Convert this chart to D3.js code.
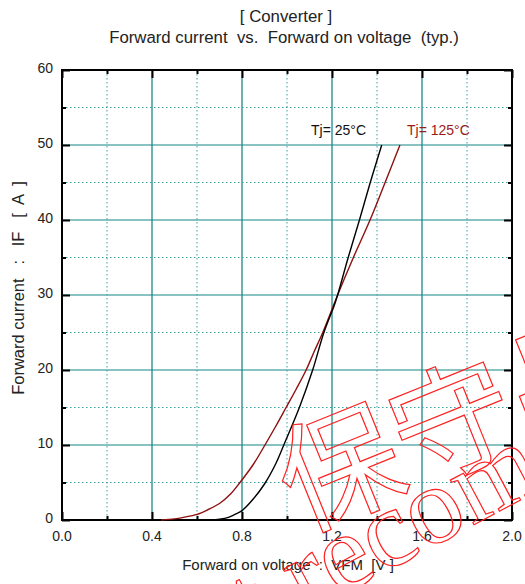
<!DOCTYPE html>
<html>
<head>
<meta charset="utf-8">
<script src="https://cdn.jsdelivr.net/npm/d3@7"></script>
<style>
  body { margin: 0; background: #fff; }
  svg { font-family: "Liberation Sans", Arial, sans-serif; }
  text { white-space: pre; }
</style>
</head>
<body>
<svg id="chart" width="525" height="584"></svg>
<script>
// curve data: forward voltage [V] vs forward current [A]
var vf25  = [0.66, 0.70, 0.74, 0.78, 0.80, 0.85, 0.90, 0.95, 0.99, 1.055, 1.114, 1.164, 1.21, 1.225, 1.272, 1.322, 1.370, 1.421];
var if25  = [0,    0.1,  0.35, 0.9,  1.25, 2.8,  4.8,  7.5,  10.3, 15.0,  20.0,  25.0,  28.6, 30,    35,    40,    45,    50];
var vf125 = [0.44, 0.50, 0.54, 0.60, 0.65, 0.70, 0.75, 0.791, 0.85, 0.902, 0.95, 0.996, 1.04, 1.085, 1.12, 1.159, 1.225, 1.295, 1.369, 1.436, 1.502];
var if125 = [0,    0.15, 0.35, 0.75, 1.4,  2.2,  3.5,  5.0,   7.4,  10.0,  12.5, 15.0,  17.4, 20,    22.4, 25,    30,    35,    40,    45,    50];

var xTicks = [0.0, 0.4, 0.8, 1.2, 1.6, 2.0];
var xMinor = [0.2, 0.6, 1.0, 1.4, 1.8];
var yTicks = [0, 10, 20, 30, 40, 50, 60];
var yMinor = [5, 15, 25, 35, 45, 55];

var svg = d3.select("#chart");
var pLeft = 62, pRight = 512, pTop = 70, pBottom = 520;

var x = d3.scaleLinear().domain([0, 2]).range([pLeft, pRight]);
var y = d3.scaleLinear().domain([0, 60]).range([pBottom, pTop]);

// titles
svg.append("text").attr("x", 286).attr("y", 22).attr("text-anchor", "middle")
    .attr("font-size", 16.8).attr("fill", "#222").text("[ Converter ]");
svg.append("text").attr("x", 284).attr("y", 43).attr("text-anchor", "middle")
    .attr("font-size", 16.8).attr("fill", "#222").text("Forward current  vs.  Forward on voltage  (typ.)");

// grid
var grid = svg.append("g");
grid.selectAll(".vmaj").data(xTicks.slice(1, -1)).enter().append("line")
    .attr("x1", d => x(d)).attr("x2", d => x(d)).attr("y1", pTop).attr("y2", pBottom)
    .attr("stroke", "#3a9a9a").attr("stroke-width", 1.5);
grid.selectAll(".hmaj").data(yTicks.slice(1, -1)).enter().append("line")
    .attr("x1", pLeft).attr("x2", pRight).attr("y1", d => y(d)).attr("y2", d => y(d))
    .attr("stroke", "#138585").attr("stroke-width", 1.2);
grid.selectAll(".vmin").data(xMinor).enter().append("line")
    .attr("x1", d => x(d)).attr("x2", d => x(d)).attr("y1", pTop).attr("y2", pBottom)
    .attr("stroke", "#3a9e9e").attr("stroke-width", 1).attr("stroke-dasharray", "1.5,2.5");
grid.selectAll(".hmin").data(yMinor).enter().append("line")
    .attr("x1", pLeft).attr("x2", pRight).attr("y1", d => y(d)).attr("y2", d => y(d))
    .attr("stroke", "#3a9e9e").attr("stroke-width", 1).attr("stroke-dasharray", "1.5,2.5");

// inward ticks on all four sides
function addTicks(axis, tx, ty, ticks, size) {
    var g = svg.append("g").attr("transform", "translate(" + tx + "," + ty + ")")
        .call(axis.tickValues(ticks).tickSize(size).tickFormat(""));
    g.select(".domain").remove();
    g.selectAll(".tick line").attr("stroke", "#000").attr("stroke-width", 2);
    return g;
}
addTicks(d3.axisTop(x), 0, pBottom, xTicks, 8);
addTicks(d3.axisTop(x), 0, pBottom, xMinor, 4);
addTicks(d3.axisBottom(x), 0, pTop, xTicks, 8);
addTicks(d3.axisBottom(x), 0, pTop, xMinor, 4);
addTicks(d3.axisRight(y), pLeft, 0, yTicks, 8);
addTicks(d3.axisRight(y), pLeft, 0, yMinor, 4);
addTicks(d3.axisLeft(y), pRight, 0, yTicks, 8);
addTicks(d3.axisLeft(y), pRight, 0, yMinor, 4);

// tick labels
svg.selectAll(".xl").data(xTicks).enter().append("text")
    .attr("x", d => x(d)).attr("y", 541).attr("text-anchor", "middle")
    .attr("font-size", 14).attr("fill", "#222").text(d3.format(".1f"));
svg.selectAll(".yl").data(yTicks).enter().append("text")
    .attr("x", 53).attr("y", d => y(d) + 3).attr("text-anchor", "end")
    .attr("font-size", 14).attr("fill", "#222").text(d => d);

// frame
svg.append("rect").attr("x", pLeft).attr("y", pTop).attr("width", pRight - pLeft).attr("height", pBottom - pTop)
    .attr("fill", "none").attr("stroke", "#000").attr("stroke-width", 2);

// axis titles
svg.append("text").attr("x", 288).attr("y", 570).attr("text-anchor", "middle")
    .attr("font-size", 15).attr("fill", "#222").text("Forward on voltage  :  VFM  [V ]");
svg.append("text").attr("transform", "translate(24,288) rotate(-90)").attr("text-anchor", "middle")
    .attr("font-size", 16.5).attr("fill", "#222").text("Forward current   :   IF   [  A  ]");

// curves
var line = d3.line().x(d => x(d[0])).y(d => y(d[1])).curve(d3.curveCatmullRom.alpha(0.5));
svg.append("path").datum(d3.zip(vf125, if125)).attr("d", line)
    .attr("fill", "none").attr("stroke", "#8e1010").attr("stroke-width", 1.4);
svg.append("path").datum(d3.zip(vf25, if25)).attr("d", line)
    .attr("fill", "none").attr("stroke", "#000").attr("stroke-width", 1.4);

// curve labels
svg.append("text").attr("x", 311).attr("y", 135).attr("font-size", 14).attr("fill", "#111").text("Tj= 25°C");
svg.append("text").attr("x", 407).attr("y", 135).attr("font-size", 14).attr("fill", "#9b1a1a").text("Tj= 125°C");

// watermark
svg.append("text").attr("transform", "translate(300,532) rotate(-22)")
    .attr("font-family", "Noto Sans CJK JP").attr("font-size", 122)
    .attr("fill", "none").attr("stroke", "#ff2020").attr("stroke-width", 1.2).text("保守品");
svg.append("text").attr("transform", "translate(135,705) rotate(-28)")
    .attr("font-family", "Liberation Serif").attr("font-size", 110)
    .attr("fill", "none").attr("stroke", "#ff2020").attr("stroke-width", 1.2).text("Not recommended");
</script>
</body>
</html>
